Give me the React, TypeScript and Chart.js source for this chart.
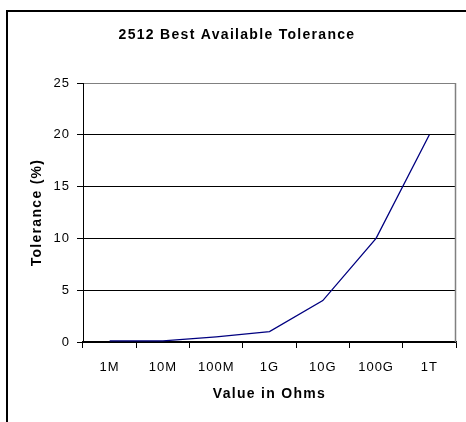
import React, { useEffect, useRef } from "react";
import { Chart, registerables } from "chart.js";

Chart.register(...registerables);

const categories = ["1M", "10M", "100M", "1G", "10G", "100G", "1T"];
const tolerance = [0.1, 0.1, 0.5, 1, 4, 10, 20];
const yMin = 0;
const yMax = 25;
const yStep = 5;

const FONT = "'Liberation Sans', Arial, sans-serif";
const BOLD_SPACING = "1.3px";
const TICK_SPACING = "1px";

function withSpacing(obj: any, method: string, spacing: string, dx = 0) {
  if (!obj || obj["__wrapped_" + method]) return;
  const orig = obj[method];
  obj[method] = function (...args: any[]) {
    const c = this.ctx;
    const prev = c.letterSpacing;
    c.save();
    c.translate(dx, 0);
    c.letterSpacing = spacing;
    try {
      return orig.apply(this, args);
    } finally {
      c.restore();
      c.letterSpacing = prev || "0px";
    }
  };
  obj["__wrapped_" + method] = true;
}

const framePlugin = {
  id: "frame",
  afterUpdate(chart: any) {
    withSpacing(chart.titleBlock, "draw", BOLD_SPACING, 5);
    Object.values(chart.scales).forEach((s: any) => {
      withSpacing(s, "drawTitle", BOLD_SPACING);
      withSpacing(s, "drawLabels", TICK_SPACING);
    });
  },
  beforeDraw(chart: any) {
    const { ctx, width, height } = chart;
    ctx.save();
    ctx.fillStyle = "#ffffff";
    ctx.fillRect(0, 0, width, height);
    ctx.restore();
  },
  afterDraw(chart: any) {
    const { ctx, chartArea, width, height } = chart;
    ctx.save();
    ctx.strokeStyle = "#000000";
    ctx.lineWidth = 2;
    ctx.beginPath();
    ctx.moveTo(7, height);
    ctx.lineTo(7, 11);
    ctx.lineTo(width, 11);
    ctx.stroke();
    ctx.strokeStyle = "#808080";
    ctx.lineWidth = 1.5;
    ctx.beginPath();
    ctx.moveTo(Math.round(chartArea.right) - 0.5, chartArea.top);
    ctx.lineTo(Math.round(chartArea.right) - 0.5, chartArea.bottom);
    ctx.stroke();
    ctx.restore();
  },
};

export default function App() {
  const ref = useRef<HTMLCanvasElement | null>(null);
  useEffect(() => {
    document.body.style.margin = "0";
    const canvas = ref.current;
    if (!canvas) return;
    const chart = new Chart(canvas, {
      type: "line",
      data: {
        labels: categories,
        datasets: [
          {
            data: tolerance,
            borderColor: "#000080",
            borderWidth: 1.3,
            pointRadius: 0,
            tension: 0,
            fill: false,
          },
        ],
      },
      options: {
        responsive: false,
        animation: false,
        devicePixelRatio: 1,
        layout: { padding: { left: 8, right: 10, top: 0, bottom: 0 } },
        plugins: {
          legend: { display: false },
          tooltip: { enabled: false },
          title: {
            display: true,
            text: "2512 Best Available Tolerance",
            color: "#000000",
            font: { family: FONT, size: 14, weight: "bold", lineHeight: 1.2 },
            padding: { top: 26.5, bottom: 39.7 },
          },
        },
        scales: {
          x: {
            type: "category",
            offset: true,
            afterFit(scale: any) {
              scale.height = 80;
            },
            grid: {
              display: true,
              offset: true,
              drawOnChartArea: false,
              drawTicks: true,
              tickLength: 6,
              color: "#000000",
              tickColor: "#000000",
            },
            border: { display: true, color: "#000000", width: 1.5 },
            ticks: {
              color: "#000000",
              font: { family: FONT, size: 13 },
              padding: 12,
              maxRotation: 0,
              autoSkip: false,
            },
            title: {
              display: true,
              text: "Value in Ohms",
              color: "#000000",
              font: { family: FONT, size: 14, weight: "bold", lineHeight: 1.2 },
              padding: { top: 0, bottom: 19 },
            },
          },
          y: {
            min: yMin,
            max: yMax,
            afterFit(scale: any) {
              scale.width = 75;
            },
            grid: {
              display: true,
              drawTicks: true,
              tickLength: 6,
              color: (c: any) => (c.tick && c.tick.value === yMax ? "#808080" : "#000000"),
              tickColor: "#000000",
            },
            border: { display: true, color: "#000000", width: 1 },
            ticks: {
              stepSize: yStep,
              color: "#000000",
              font: { family: FONT, size: 13 },
              padding: 7,
            },
            title: {
              display: true,
              text: "Tolerance (%)",
              color: "#000000",
              font: { family: FONT, size: 14, weight: "bold", lineHeight: 1.2 },
              padding: { top: 20.5, bottom: 0 },
            },
          },
        },
      },
      plugins: [framePlugin],
    } as any);
    chart.draw();
    return () => chart.destroy();
  }, []);
  return (
    <canvas
      ref={ref}
      width={466}
      height={422}
      style={{ display: "block", width: 466, height: 422 }}
    />
  );
}
